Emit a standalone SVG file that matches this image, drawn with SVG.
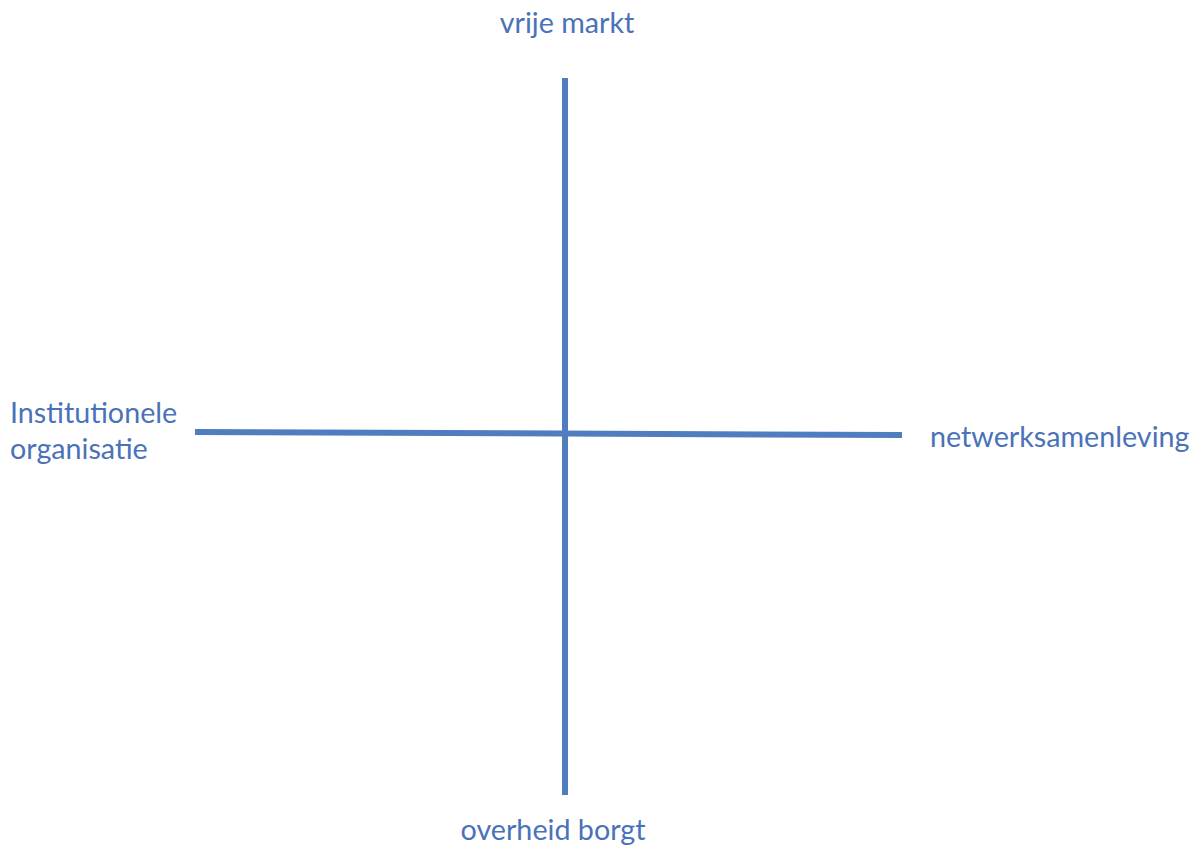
<svg xmlns="http://www.w3.org/2000/svg" width="1198" height="848" viewBox="0 0 1198 848">
<style>
.lbl{font-family:Lato,"Open Sans","Liberation Sans",sans-serif;font-size:28.7px;fill:#4a72b8}
.axis{stroke:#4f7dbf;stroke-width:6;fill:none}
</style>
<rect width="1198" height="848" fill="#ffffff"/>
<g id="connectors">
<line class="axis" x1="565" y1="78" x2="565" y2="795"/>
<line class="axis" x1="195" y1="432" x2="902" y2="435"/>
</g>
<g id="top"><text class="lbl" x="567" y="33" text-anchor="middle">vrije markt</text></g>
<g id="left"><text class="lbl" x="10" y="423">Institutionele</text><text class="lbl" x="10" y="459">organisatie</text></g>
<g id="right"><text class="lbl" x="930" y="447">netwerksamenleving</text></g>
<g id="bottom"><text class="lbl" x="553" y="840" text-anchor="middle">overheid borgt</text></g>
</svg>
